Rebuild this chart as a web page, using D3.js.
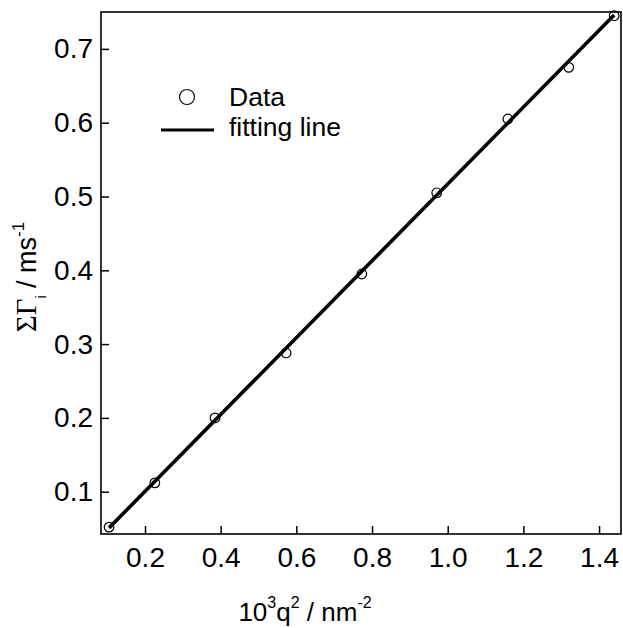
<!DOCTYPE html>
<html>
<head>
<meta charset="utf-8">
<script src="https://cdn.jsdelivr.net/npm/d3@7/dist/d3.min.js"></script>
<style>
  html, body { margin: 0; padding: 0; background: #fff; }
  svg { display: block; }
  text { font-family: "Liberation Sans", Arial, sans-serif; fill: #000; }
</style>
</head>
<body>
<svg id="chart" width="623" height="628"></svg>
<script>
// Data
const qSquared = [0.105, 0.226, 0.385, 0.573, 0.773, 0.971, 1.159, 1.320, 1.440];
const sumGamma = [0.052, 0.112, 0.200, 0.288, 0.395, 0.505, 0.605, 0.675, 0.745];
const fitX = [0.105, 1.440];
const fitY = [0.051, 0.746];
const xTicks = [0.2, 0.4, 0.6, 0.8, 1.0, 1.2, 1.4];
const yTicks = [0.1, 0.2, 0.3, 0.4, 0.5, 0.6, 0.7];
const legendLabels = ["Data", "fitting line"];

const svg = d3.select("#chart");
const mLeft = 101, mRight = 621, mTop = 12, mBottom = 534;

const x = d3.scaleLinear().domain([0.0837, 1.458]).range([mLeft, mRight]);
const y = d3.scaleLinear().domain([0.0427, 0.750]).range([mBottom, mTop]);

// axes with inward ticks
const xAxis = d3.axisBottom(x).tickValues(xTicks).tickFormat(d3.format(".1f"))
  .tickSizeInner(-8).tickSizeOuter(0).tickPadding(13);
const yAxis = d3.axisLeft(y).tickValues(yTicks).tickFormat(d3.format(".1f"))
  .tickSizeInner(-8).tickSizeOuter(0).tickPadding(8);

const gx = svg.append("g").attr("transform", `translate(0,${mBottom})`).call(xAxis);
const gy = svg.append("g").attr("transform", `translate(${mLeft},0)`).call(yAxis);
[gx, gy].forEach(g => {
  g.select(".domain").remove();
  g.selectAll(".tick line").attr("stroke", "#000").attr("stroke-width", 1.5);
  g.selectAll(".tick text").attr("font-size", 28).attr("font-family", "Liberation Sans, Arial, sans-serif").attr("fill", "#000");
});
gx.selectAll(".tick text").attr("dy", "0.71em");

// frame
svg.append("rect").attr("x", mLeft).attr("y", mTop)
  .attr("width", mRight - mLeft).attr("height", mBottom - mTop)
  .attr("fill", "none").attr("stroke", "#000").attr("stroke-width", 1.6);

// fitting line
const line = d3.line().x(d => x(d[0])).y(d => y(d[1]));
svg.append("path").datum(d3.zip(fitX, fitY))
  .attr("d", line).attr("fill", "none").attr("stroke", "#000").attr("stroke-width", 3.6);

// data circles
svg.append("g").selectAll("circle").data(d3.zip(qSquared, sumGamma)).join("circle")
  .attr("cx", d => x(d[0])).attr("cy", d => y(d[1])).attr("r", 4.8)
  .attr("fill", "none").attr("stroke", "#000").attr("stroke-width", 1.2);

// legend
const lg = svg.append("g");
lg.append("circle").attr("cx", 187).attr("cy", 97).attr("r", 7.5)
  .attr("fill", "none").attr("stroke", "#000").attr("stroke-width", 1.2);
lg.append("text").attr("x", 229).attr("y", 106).attr("font-size", 26.5).text(legendLabels[0]);
lg.append("line").attr("x1", 161).attr("x2", 214).attr("y1", 130).attr("y2", 130)
  .attr("stroke", "#000").attr("stroke-width", 3.2);
lg.append("text").attr("x", 229).attr("y", 136).attr("font-size", 26.5).text(legendLabels[1]);

// x title
const xt = svg.append("text").attr("x", 305).attr("y", 621).attr("text-anchor", "middle").attr("font-size", 26);
xt.append("tspan").text("10");
xt.append("tspan").attr("font-size", 16).attr("dy", -13).text("3");
xt.append("tspan").attr("dy", 13).text("q");
xt.append("tspan").attr("font-size", 16).attr("dy", -13).text("2");
xt.append("tspan").attr("dy", 13).text(" / nm");
xt.append("tspan").attr("font-size", 16).attr("dy", -13).text("-2");

// y title
const yt = svg.append("text").attr("transform", "translate(36,277) rotate(-90)")
  .attr("text-anchor", "middle").attr("font-size", 27);
yt.append("tspan").attr("font-family", "Liberation Serif, Times New Roman, serif").attr("font-size", 29).text("ΣΓ");
yt.append("tspan").attr("font-size", 14).attr("dy", 10).text("i");
yt.append("tspan").attr("dy", -10).text(" / ms");
yt.append("tspan").attr("font-size", 17).attr("dy", -12).text("-1");
</script>
</body>
</html>
